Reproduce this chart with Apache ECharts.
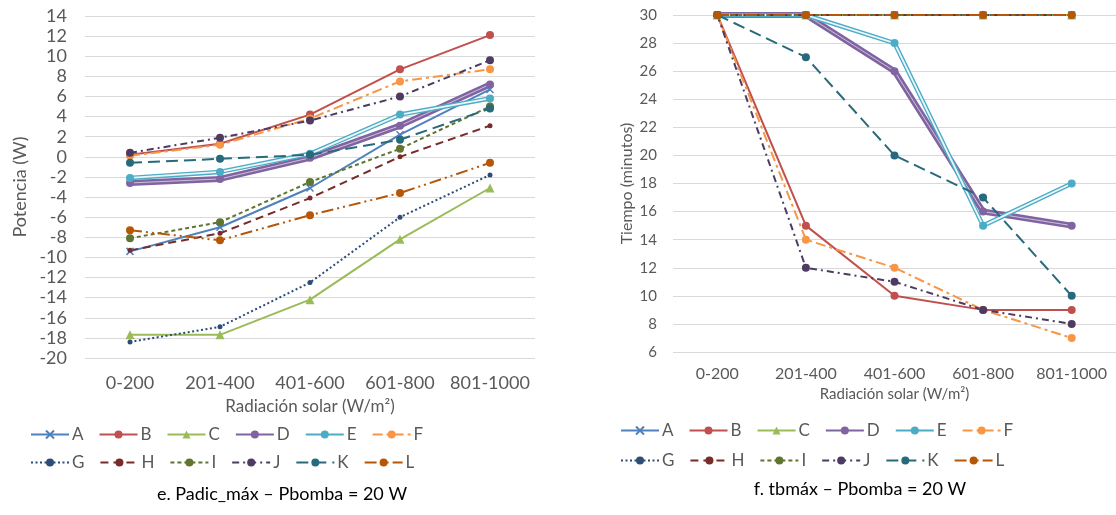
<!DOCTYPE html>
<html><head><meta charset="utf-8">
<script src="https://cdn.jsdelivr.net/npm/echarts@6/dist/echarts.min.js"></script>
<style>html,body{margin:0;padding:0;background:#fff}#c{width:1116px;height:515px}</style>
</head><body><div id="c"></div>
<script>
// ---- data ----
const categories = ['0-200', '201-400', '401-600', '601-800', '801-1000'];
const seriesNames = ['A','B','C','D','E','F','G','H','I','J','K','L'];
// Left chart: Padic_máx – Pbomba (W)
const pA = [-9.4, -7.0, -3.1, 2.2, 6.7];
const pB = [0.2, 1.3, 4.2, 8.7, 12.1];
const pC = [-17.7, -17.7, -14.2, -8.2, -3.1];
const pD = [-2.6, -2.2, -0.1, 3.1, 7.2];
const pE = [-2.1, -1.5, 0.3, 4.2, 5.8];
const pF = [0.1, 1.2, 3.8, 7.5, 8.7];
const pG = [-18.4, -16.9, -12.5, -6.0, -1.8];
const pH = [-9.3, -7.6, -4.1, 0.0, 3.1];
const pI = [-8.1, -6.5, -2.5, 0.8, 5.0];
const pJ = [0.4, 1.9, 3.6, 6.0, 9.6];
const pK = [-0.6, -0.2, 0.2, 1.7, 4.8];
const pL = [-7.3, -8.3, -5.8, -3.6, -0.6];
// Right chart: tbmáx – Pbomba (minutos)
const tA = [30, 30, 30, 30, 30];
const tB = [30, 15, 10, 9, 9];
const tC = [30, 30, 30, 30, 30];
const tD = [30, 30, 26, 16, 15];
const tE = [30, 30, 28, 15, 18];
const tF = [30, 14, 12, 9, 7];
const tG = [30, 30, 30, 30, 30];
const tH = [30, 30, 30, 30, 30];
const tI = [30, 30, 30, 30, 30];
const tJ = [30, 12, 11, 9, 8];
const tK = [30, 27, 20, 17, 10];
const tL = [30, 30, 30, 30, 30];
const leftTicks = {min: -20, max: 14, interval: 2};
const rightTicks = {min: 6, max: 30, interval: 2};

const leftData = [pA,pB,pC,pD,pE,pF,pG,pH,pI,pJ,pK,pL];
const rightData = [tA,tB,tC,tD,tE,tF,tG,tH,tI,tJ,tK,tL];

// ---- styles ----
const styles = {
  A: {color:'#4F81BD', type:'solid', w:2, sym:'path://M0,0L10,10M10,0L0,10', size:7},
  B: {color:'#C0504D', type:'solid', w:2, sym:'circle', size:8},
  C: {color:'#9BBB59', type:'solid', w:2, sym:'triangle', size:9},
  D: {color:'#8064A2', type:'solid', w:6, sym:'circle', size:8, inner:1, innerOp:0.6},
  E: {color:'#4BACC6', type:'solid', w:4.5, sym:'circle', size:8, inner:1.8, innerOp:0.9},
  F: {color:'#F79646', type:[10,4,3,4], w:2, sym:'circle', size:8},
  G: {color:'#2C4D75', type:[2,2.5], w:2, sym:'circle', size:5},
  H: {color:'#772C2A', type:[8,5], w:2, sym:'circle', size:5},
  I: {color:'#5F7530', type:[4,3], w:2, sym:'circle', size:8},
  J: {color:'#4D3B62', type:[7,4,2,4], w:2, sym:'circle', size:8},
  K: {color:'#276A7C', type:[12,6], w:2, sym:'circle', size:8},
  L: {color:'#B65708', type:[12,4,2,4,2,4], w:2, sym:'circle', size:8}
};

function buildSeries(dataArr, idx) {
  const out = [];
  seriesNames.forEach((n, i) => {
    const s = styles[n];
    out.push({
      name: n, type: 'line', xAxisIndex: idx, yAxisIndex: idx,
      data: dataArr[i], symbol: s.sym, symbolSize: s.size, showSymbol: true,
      lineStyle: {color: s.color, width: s.w, type: s.type},
      itemStyle: {color: s.color, borderColor: s.color, borderWidth: n === 'A' ? 1.5 : 0},
      emphasis: {disabled: true}, animation: false
    });
    if (s.inner) {
      out.push({
        name: n + '_inner', type: 'line', xAxisIndex: idx, yAxisIndex: idx,
        data: dataArr[i], symbol: 'none', showSymbol: false,
        lineStyle: {color: '#ffffff', width: s.inner, type: 'solid', opacity: s.innerOp},
        emphasis: {disabled: true}, animation: false, silent: true
      });
    }
  });
  return out;
}

const font = 'Lato, "Open Sans", sans-serif';
const grey = '#595959';
const gridLine = {show: true, lineStyle: {color: '#D9D9D9', width: 1}};

function legendRow(names, left, top) {
  return {
    data: names, left: left, top: top, orient: 'horizontal',
    itemWidth: 38, itemHeight: 10, itemGap: 15,
    textStyle: {fontFamily: font, fontSize: 17, color: grey, width: 24, padding: [0,0,0,-2]},
    selectedMode: false
  };
}

const option = {
  backgroundColor: '#fff',
  animation: false,
  grid: [
    {left: 85, top: 16, width: 450, height: 342},
    {left: 673, top: 15, width: 443, height: 337}
  ],
  xAxis: [
    {gridIndex: 0, type: 'category', data: categories, boundaryGap: true,
     axisLine: {show: false}, axisTick: {show: false},
     axisLabel: {fontFamily: font, fontSize: 18, color: grey, margin: 16, interval: 0},
     name: 'Radiación solar (W/m²)', nameLocation: 'middle', nameGap: 40,
     nameTextStyle: {fontFamily: font, fontSize: 17, color: grey}},
    {gridIndex: 1, type: 'category', data: categories, boundaryGap: true,
     axisLine: {show: false}, axisTick: {show: false},
     axisLabel: {fontFamily: font, fontSize: 16, color: grey, margin: 14, interval: 0},
     name: 'Radiación solar (W/m²)', nameLocation: 'middle', nameGap: 30,
     nameTextStyle: {fontFamily: font, fontSize: 15, color: grey}}
  ],
  yAxis: [
    {gridIndex: 0, type: 'value', min: leftTicks.min, max: leftTicks.max, interval: leftTicks.interval,
     axisLine: {show: false}, axisTick: {show: false}, splitLine: gridLine,
     axisLabel: {fontFamily: font, fontSize: 18, color: grey, margin: 18},
     name: 'Potencia (W)', nameLocation: 'middle', nameGap: 56, nameRotate: 90,
     nameTextStyle: {fontFamily: font, fontSize: 18, color: grey}},
    {gridIndex: 1, type: 'value', min: rightTicks.min, max: rightTicks.max, interval: rightTicks.interval,
     axisLine: {show: false}, axisTick: {show: false}, splitLine: gridLine,
     axisLabel: {fontFamily: font, fontSize: 15, color: grey, margin: 16},
     name: 'Tiempo (minutos)', nameLocation: 'middle', nameGap: 38, nameRotate: 90,
     nameTextStyle: {fontFamily: font, fontSize: 16, color: grey}}
  ],
  legend: [
    legendRow(['A','B','C','D','E','F'], 25, 421),
    legendRow(['G','H','I','J','K','L'], 25, 449),
    legendRow(['A','B','C','D','E','F'], 615, 417),
    legendRow(['G','H','I','J','K','L'], 615, 447)
  ],
  graphic: [
    {type: 'text', x: 282, y: 485, style: {text: 'e. Padic_máx – Pbomba = 20 W', fontFamily: font, fontSize: 18, fill: '#000', align: 'center'}},
    {type: 'text', x: 860, y: 480, style: {text: 'f. tbmáx – Pbomba = 20 W', fontFamily: font, fontSize: 18, fill: '#000', align: 'center'}}
  ],
  series: buildSeries(leftData, 0).concat(buildSeries(rightData, 1))
};

const chart = echarts.init(document.getElementById('c'), null, {renderer: 'canvas'});
chart.setOption(option);
</script>
</body></html>
